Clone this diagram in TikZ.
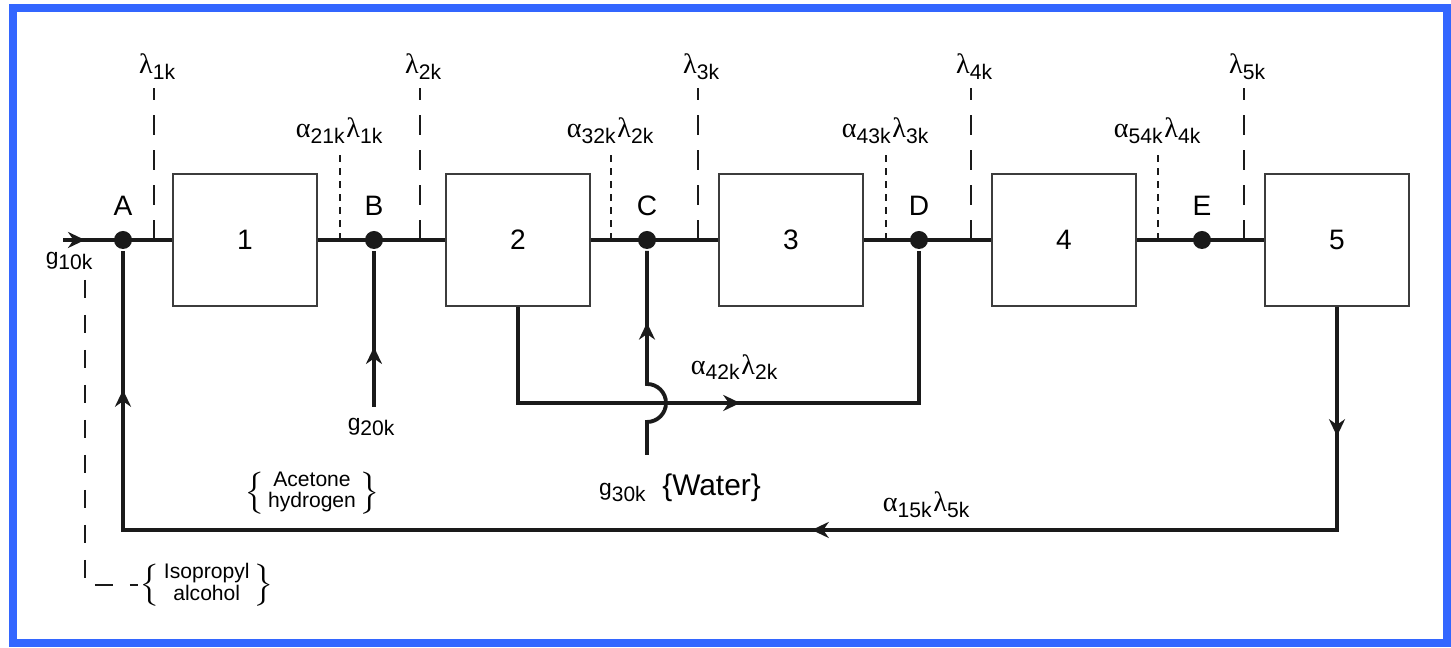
\documentclass[tikz,border=0pt]{standalone}
\usepackage{fontspec}
\setmainfont{Liberation Sans}
\newfontfamily\grk{Liberation Serif}
\usetikzlibrary{arrows.meta, positioning, calc, decorations.markings}
\definecolor{cframe}{HTML}{3366FF}
\definecolor{cline}{HTML}{1A1A1A}
\newcommand\lam[1]{{\grk λ}\textsubscript{#1}}
\newcommand\alp[1]{{\grk α}\textsubscript{#1}}
\newcommand\gfeed[1]{{\fontsize{6.5}{7}\selectfont g}\textsubscript{#1}}
\newcommand\chembrace[2]{$\left\{\def\arraystretch{0.82}\begin{tabular}{@{\,}c@{\,}}#1\\#2\end{tabular}\right\}$}
\tikzset{
  every picture/.style={font=\fontsize{8}{9.6}\selectfont, line width=1.1pt},
  unit/.style={draw=cline!85, line width=0.7pt, minimum width=1.44cm, minimum height=1.32cm, inner sep=0pt},
  flow/.style={draw=cline, line width=1.1pt},
  joint/.style={circle, fill=cline, inner sep=0pt, minimum size=0.18cm},
  lamline/.style={draw=cline, line width=0.8pt, dash pattern=on 0.2cm off 0.15cm},
  alpline/.style={draw=cline, line width=0.6pt, dash pattern=on 0.07cm off 0.06cm},
  feedline/.style={draw=cline, line width=0.7pt, dash pattern=on 0.18cm off 0.17cm},
  tipat/.style={postaction={decorate, decoration={markings, mark=at position #1 with {\arrow{Stealth[length=0.17cm, width=0.16cm]}}}}},
  chemnote/.style={font=\fontsize{6}{7}\selectfont, inner sep=0pt},
}

\begin{document}
\begin{tikzpicture}
  \useasboundingbox (0,0) rectangle (14.51,6.48);
  \draw[cframe, line width=0.08cm] (0.13,0.05) rectangle (14.47,6.40);
  % reactors
  \foreach \i [evaluate=\i as \xc using {2.45+2.73*(\i-1)}] in {1,...,5}
    \node[unit] (n\i) at (\xc,4.08) {\i};
  % mixing points
  \foreach \n/\x in {A/1.23, B/3.74, C/6.47, D/9.19, E/12.02}
    \node[joint, label={[label distance=0pt]above:\n}] (\n) at (\x,4.08) {};
  % main line
  \coordinate (g10) at (0.63,4.08);
  \draw[flow, tipat=0.22cm] (g10) -- (n1.west);
  \foreach \i [evaluate=\i as \j using int(\i+1)] in {1,...,4}
    \draw[flow] (n\i.east) -- (n\j.west);
  \node (g10lbl) at (0.70,3.87) {\gfeed{10k}};
  % outputs and splits
  \foreach \x/\s [count=\i] in {1.54/1k, 4.20/2k, 6.98/3k, 9.71/4k, 12.44/5k}
    \draw[lamline] (\x,4.08) -- (\x,5.60) node[above, xshift=0.04cm, inner sep=2pt] (lam\i) {\lam{\s}};
  \foreach \x/\a/\l [count=\i] in {3.40/21k/1k, 6.11/32k/2k, 8.86/43k/3k, 11.58/54k/4k}
    \draw[alpline] (\x,4.08) -- (\x,4.93) node[above, inner sep=3pt] (alp\i) {\alp{\a}\lam{\l}};
  % isopropyl alcohol feed
  \node[chemnote, anchor=west] (iso) at (1.38,0.63) {\chembrace{Isopropyl}{alcohol}};
  \coordinate (isotop) at (0.85,3.68);
  \draw[feedline] (isotop) |- (iso.west);
  % hydrogen feed
  \coordinate (g20) at (3.74,2.41);
  \draw[flow, tipat=0.60cm] (g20) -- (B);
  \node (g20lbl) at (3.72,2.21) {\gfeed{20k}};
  \node[chemnote] (acet) at (3.12,1.55) {\chembrace{Acetone}{hydrogen}};
  % water feed with hop
  \coordinate (g30) at (6.47,1.93);
  \draw[flow, tipat=1.54cm] (g30) -- ++(0,0.33) arc[start angle=-90, end angle=90, radius=0.19cm] -- (C);
  \node[font=\fontsize{8.5}{10}\selectfont] (water) at (6.80,1.60) {\gfeed{30k}\enspace\{Water\}};
  % bypass 2 -> D
  \coordinate (byp) at (9.19,2.45);
  \draw[flow, tipat=3.18cm] (n2.south) |- (byp) -- (D);
  \node (a42) at (7.35,2.81) {\alp{42k}\lam{2k}};
  % recycle 5 -> A
  \coordinate (fb) at (1.23,1.18);
  \draw[flow, tipat=1.29cm, tipat=7.48cm, tipat=15.77cm] (n5.south) |- (fb) -- (A);
  \node (a15) at (9.27,1.43) {\alp{15k}\lam{5k}};
\end{tikzpicture}
\end{document}
